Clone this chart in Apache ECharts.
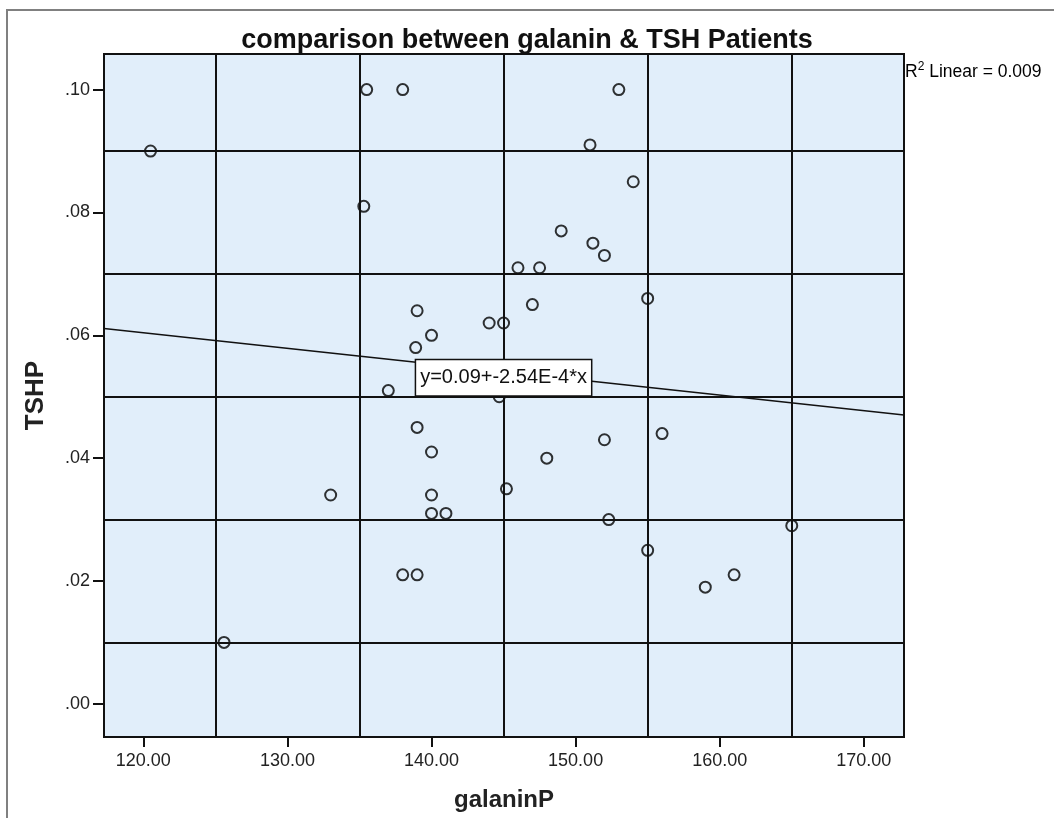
<!DOCTYPE html>
<html><head><meta charset="utf-8">
<script src="https://cdn.jsdelivr.net/npm/echarts@6/dist/echarts.min.js"></script>
<style>html,body{margin:0;padding:0;background:#fff}#c{width:1054px;height:818px}</style>
</head><body><div id="c"></div>
<script>
// Data
const galaninP = [120.5,125.6,133.0,135.3,135.5,138.0,137.0,138.0,139.0,139.0,138.9,140.0,139.0,140.0,140.0,140.0,141.0,144.0,145.0,144.7,145.2,146.0,147.5,147.0,148.0,149.0,151.0,151.2,152.0,152.0,152.3,153.0,154.0,155.0,155.0,156.0,159.0,161.0,165.0];
const tshP = [0.090,0.010,0.034,0.081,0.100,0.100,0.051,0.021,0.021,0.064,0.058,0.060,0.045,0.041,0.034,0.031,0.031,0.062,0.062,0.050,0.035,0.071,0.071,0.065,0.040,0.077,0.091,0.075,0.073,0.043,0.030,0.100,0.085,0.066,0.025,0.044,0.019,0.021,0.029];
const xTicks = [120,130,140,150,160,170];
const yTicks = [0,0.02,0.04,0.06,0.08,0.10];
const xGridLines = [125,135,145,155,165];
const yGridLines = [0.01,0.03,0.05,0.07,0.09];
const fitIntercept = 0.0909;
const fitSlope = -0.000254;
const fitText = 'y=0.09+-2.54E-4*x';
const r2Text = '0.009';
const xMin = 117.27, xMax = 172.79, yMin = -0.0054, yMax = 0.1058;

const FONT = 'Liberation Sans, Arial, sans-serif';
const scatterData = galaninP.map((x, i) => [x, tshP[i]]);
const fitAt = x => fitIntercept + fitSlope * x;
const fitData = [[xMin, fitAt(xMin)], [xMax, fitAt(xMax)]];
const labelX = 145;

const chart = echarts.init(document.getElementById('c'), null, {renderer: 'canvas'});
chart.setOption({
  animation: false,
  backgroundColor: '#ffffff',
  title: {
    text: 'comparison between galanin & TSH Patients',
    left: 'center', top: 22,
    textStyle: {fontFamily: FONT, fontSize: 27, fontWeight: 'bold', color: '#111'}
  },
  graphic: [
    {type: 'rect', shape: {x: 7, y: 10, width: 1200, height: 1000}, style: {fill: 'none', stroke: '#808080', lineWidth: 2}, silent: true, z: -10},
    {type: 'text', left: 905, top: 61, style: {
      text: '{r|R}{s|2}{t| Linear = ' + r2Text + '}',
      rich: {
        r: {fontFamily: FONT, fontSize: 17.5, color: '#111', verticalAlign: 'bottom'},
        s: {fontFamily: FONT, fontSize: 12, color: '#111', verticalAlign: 'top', padding: [0,0,8,0]},
        t: {fontFamily: FONT, fontSize: 17.5, color: '#111', verticalAlign: 'bottom'}
      }
    }}
  ],
  grid: {left: 104, right: 150, top: 54, bottom: 81, show: true, backgroundColor: '#e1eefa', borderColor: '#111', borderWidth: 2},
  xAxis: {
    type: 'value', min: xMin, max: xMax,
    name: 'galaninP', nameLocation: 'middle', nameGap: 51,
    nameTextStyle: {fontFamily: FONT, fontSize: 24, fontWeight: 'bold', color: '#222'},
    axisLine: {show: true, onZero: false, lineStyle: {color: '#111', width: 2}},
    axisTick: {show: true, length: 10, lineStyle: {color: '#111', width: 2}, customValues: xTicks},
    axisLabel: {customValues: xTicks, margin: 15, fontFamily: FONT, fontSize: 18, color: '#222', formatter: v => v.toFixed(2)},
    splitLine: {show: false}
  },
  yAxis: {
    type: 'value', min: yMin, max: yMax,
    name: 'TSHP', nameLocation: 'middle', nameGap: 55, nameRotate: 90,
    nameTextStyle: {fontFamily: FONT, fontSize: 26, fontWeight: 'bold', color: '#222'},
    axisLine: {show: true, onZero: false, lineStyle: {color: '#111', width: 2}},
    axisTick: {show: true, length: 11, lineStyle: {color: '#111', width: 2}, customValues: yTicks},
    axisLabel: {customValues: yTicks, margin: 14, fontFamily: FONT, fontSize: 18, color: '#222', formatter: v => v.toFixed(2).replace(/^0/, '')},
    splitLine: {show: false}
  },
  series: [
    {
      type: 'scatter', data: scatterData, symbol: 'circle', symbolSize: 11,
      itemStyle: {color: 'rgba(0,0,0,0)', borderColor: '#000', borderWidth: 2},
      silent: true, z: 3,
      markLine: {
        silent: true, symbol: ['none', 'none'], label: {show: false},
        lineStyle: {color: '#111', width: 2, type: 'solid'},
        data: xGridLines.map(v => ({xAxis: v})).concat(yGridLines.map(v => ({yAxis: v})))
      }
    },
    {
      type: 'line', data: fitData, showSymbol: false, symbol: 'none', silent: true, z: 4,
      lineStyle: {color: '#111', width: 1.5},
      markPoint: {
        symbol: 'rect', symbolSize: 1, itemStyle: {color: 'rgba(0,0,0,0)'},
        data: [{coord: [labelX, fitAt(labelX)]}],
        label: {show: true, position: 'inside', formatter: fitText, fontFamily: FONT, fontSize: 20, color: '#111',
          backgroundColor: '#fff', borderColor: '#111', borderWidth: 1.5, padding: [8, 4, 7, 4], offset: [0, 6]},
        z: 10
      }
    }
  ]
});
</script></body></html>
